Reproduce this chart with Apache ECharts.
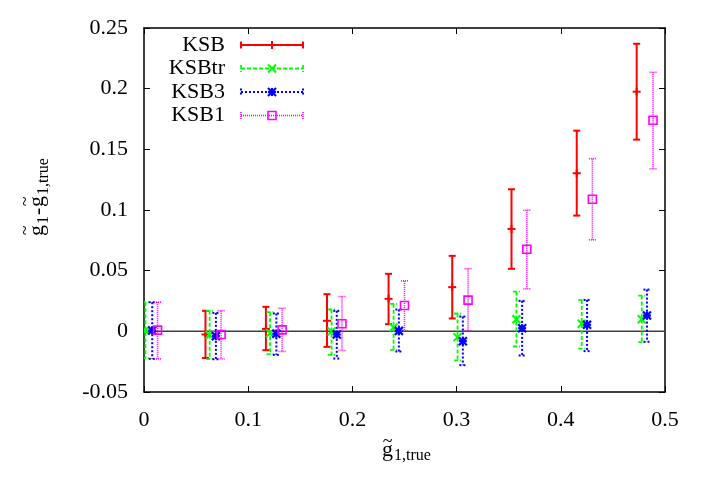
<!DOCTYPE html>
<html lang="en">
<head>
    <meta charset="UTF-8">
    <title>KSB bias</title>
    <script src="https://cdn.jsdelivr.net/npm/echarts@6/dist/echarts.min.js"></script>
    <style>
        body{ margin:0; background:#fff; }
        #chart{ width:701px; height:491px; }
    </style>
</head>
<body>
<div id="chart"></div>
<script>
    // values: centre, lower and upper end of each error bar
    var ksbX  = [0.059, 0.117, 0.1756, 0.2347, 0.2958, 0.3527, 0.4153, 0.4728];
    var ksbY  = [-0.0026, 0.002, 0.0087, 0.0268, 0.0364, 0.0844, 0.1303, 0.1975];
    var ksbLo = [-0.022, -0.0155, -0.0128, 0.0059, 0.0106, 0.0515, 0.0954, 0.158];
    var ksbHi = [0.0169, 0.0202, 0.0306, 0.0474, 0.0622, 0.1171, 0.1654, 0.237];

    var trX  = [0.0014, 0.063, 0.121, 0.18, 0.2395, 0.3009, 0.3574, 0.4201, 0.4777];
    var trY  = [0.0007, -0.003, -0.0015, 0.0, 0.0031, -0.0048, 0.01, 0.0062, 0.01];
    var trLo = [-0.022, -0.0229, -0.0188, -0.0194, -0.0152, -0.024, -0.0125, -0.0142, -0.0089];
    var trHi = [0.024, 0.0169, 0.0158, 0.018, 0.0227, 0.0147, 0.0328, 0.0259, 0.0295];

    var k3X  = [0.0079, 0.069, 0.127, 0.185, 0.2446, 0.306, 0.3629, 0.4252, 0.4827];
    var k3Y  = [0.0007, -0.004, -0.002, -0.0026, 0.0004, -0.0081, 0.0026, 0.0054, 0.013];
    var k3Lo = [-0.0227, -0.023, -0.0194, -0.0224, -0.0166, -0.0279, -0.0199, -0.0163, -0.0086];
    var k3Hi = [0.024, 0.0152, 0.0147, 0.0169, 0.018, 0.0122, 0.0251, 0.0259, 0.0344];

    var k1X  = [0.013, 0.074, 0.1325, 0.19, 0.25, 0.311, 0.3674, 0.4303, 0.4885];
    var k1Y  = [0.001, -0.0026, 0.0012, 0.0062, 0.0213, 0.0257, 0.0677, 0.1089, 0.174];
    var k1Lo = [-0.0227, -0.0227, -0.0166, -0.0158, 0.0005, 0.0005, 0.035, 0.0754, 0.1339];
    var k1Hi = [0.024, 0.017, 0.019, 0.0287, 0.0416, 0.0517, 0.0998, 0.1423, 0.2135];

    var zeroX = [0, 0.5];
    var zeroY = [0, 0];

    var names = ['KSB', 'KSBtr', 'KSB3', 'KSB1'];

    var serif = '"Liberation Serif", "Times New Roman", serif';

    function rows(x, y, lo, hi) {
        var out = [];
        for (var i = 0; i < x.length; i++) out.push([x[i], y[i], lo[i], hi[i]]);
        return out;
    }

    function seg(x1, y1, x2, y2, st) {
        return {type: 'line', shape: {x1: x1, y1: y1, x2: x2, y2: y2}, style: st};
    }

    // point markers, gnuplot style
    function plusMark(cx, cy, c) {
        var st = {stroke: c, lineWidth: 2};
        return {type: 'group', children: [seg(cx - 4, cy, cx + 4, cy, st), seg(cx, cy - 4, cx, cy + 4, st)]};
    }
    function crossMark(cx, cy, c) {
        var st = {stroke: c, lineWidth: 2};
        return {type: 'group', children: [seg(cx - 4, cy - 4, cx + 4, cy + 4, st), seg(cx - 4, cy + 4, cx + 4, cy - 4, st)]};
    }
    function starMark(cx, cy, c) {
        var st = {stroke: c, lineWidth: 2.2};
        return {type: 'group', children: [
            seg(cx - 4, cy - 4, cx + 4, cy + 4, st), seg(cx - 4, cy + 4, cx + 4, cy - 4, st),
            seg(cx - 4, cy, cx + 4, cy, st), seg(cx, cy - 4, cx, cy + 4, st)
        ]};
    }
    function squareMark(cx, cy, c) {
        return {type: 'rect', shape: {x: cx - 4, y: cy - 4, width: 8, height: 8},
            style: {stroke: c, lineWidth: 1.6, fill: null}};
    }

    var looks = [
        {color: '#ff0000', dash: null, width: 2, mark: plusMark},
        {color: '#00ff00', dash: [4, 2], width: 1.8, mark: crossMark},
        {color: '#0000ff', dash: [2, 2], width: 2, mark: starMark},
        {color: '#ff00ff', dash: [1, 1], width: 1.6, mark: squareMark}
    ];

    function errRender(look) {
        return function (params, api) {
            var x = api.value(0);
            var p = api.coord([x, api.value(1)]);
            var lo = api.coord([x, api.value(2)]);
            var hi = api.coord([x, api.value(3)]);
            var st = {stroke: look.color, lineWidth: look.width, lineDash: look.dash, fill: null};
            var w = 3.5;
            return {
                type: 'group',
                children: [
                    seg(hi[0], hi[1], lo[0], lo[1], st),
                    seg(hi[0] - w, hi[1], hi[0] + w, hi[1], st),
                    seg(lo[0] - w, lo[1], lo[0] + w, lo[1], st),
                    look.mark(p[0], p[1], look.color)
                ]
            };
        };
    }

    var datasets = [
        rows(ksbX, ksbY, ksbLo, ksbHi),
        rows(trX, trY, trLo, trHi),
        rows(k3X, k3Y, k3Lo, k3Hi),
        rows(k1X, k1Y, k1Lo, k1Hi)
    ];

    var series = [{
        type: 'line',
        data: zeroX.map(function (v, i) { return [v, zeroY[i]]; }),
        symbol: 'none',
        silent: true,
        lineStyle: {color: '#404040', width: 1.5},
        z: 1
    }];
    datasets.forEach(function (d, i) {
        series.push({
            name: names[i],
            type: 'custom',
            renderItem: errRender(looks[i]),
            data: d,
            clip: true,
            encode: {x: 0, y: [1, 2, 3]},
            z: 2 + i
        });
    });

    // legend drawn by hand: label on the left, sample error bar on the right
    var legendItems = [];
    names.forEach(function (n, i) {
        var y = 45 + i * 23.5;
        var lk = looks[i];
        var st = {stroke: lk.color, lineWidth: lk.width, lineDash: lk.dash, fill: null};
        legendItems.push({
            type: 'text', x: 225, y: y,
            style: {text: n, font: '22px ' + serif, fill: '#000', align: 'right', verticalAlign: 'middle'}
        });
        legendItems.push(seg(241, y, 303, y, st));
        legendItems.push(seg(241, y - 3.5, 241, y + 3.5, st));
        legendItems.push(seg(303, y - 3.5, 303, y + 3.5, st));
        legendItems.push(lk.mark(272, y, lk.color));
    });

    function txt(t, x, y, size, align, rot) {
        return {
            type: 'text', x: x, y: y, rotation: rot || 0,
            style: {text: t, font: size + 'px ' + serif, fill: '#000', align: align, verticalAlign: 'middle'}
        };
    }
    var R = Math.PI / 2;
    var axisNames = [
        // x axis name
        txt('g', 382, 450, 22, 'left'),
        txt('~', 387.5, 442, 18, 'center'),
        txt('1,true', 394, 456, 16, 'left'),
        // y axis name, rotated
        txt('g', 37.5, 236, 22, 'left', R),
        txt('~', 26, 230.5, 18, 'center', R),
        txt('1', 44, 224, 16, 'left', R),
        txt('-', 38, 215, 22, 'left', R),
        txt('g', 37.5, 207, 22, 'left', R),
        txt('~', 26, 201.5, 18, 'center', R),
        txt('1,true', 44, 195, 16, 'left', R)
    ];

    var labelStyle = {color: '#000', fontFamily: serif, fontSize: 22};
    var frame = {show: true, onZero: false, lineStyle: {color: '#000', width: 1.5}};
    var tick = {show: true, inside: true, length: 6, lineStyle: {color: '#000', width: 1}};

    var chart = echarts.init(document.getElementById('chart'));
    chart.setOption({
        animation: false,
        backgroundColor: '#fff',
        grid: {left: 144, right: 36, top: 28, bottom: 99, containLabel: false},
        xAxis: [
            {type: 'value', min: 0, max: 0.5, interval: 0.1, position: 'bottom',
                axisLine: frame, axisTick: tick, splitLine: {show: false},
                axisLabel: Object.assign({margin: 17}, labelStyle)},
            {type: 'value', min: 0, max: 0.5, interval: 0.1, position: 'top',
                axisLine: frame, axisTick: tick, splitLine: {show: false}, axisLabel: {show: false}}
        ],
        yAxis: [
            {type: 'value', min: -0.05, max: 0.25, interval: 0.05, position: 'left',
                axisLine: frame, axisTick: tick, splitLine: {show: false},
                axisLabel: Object.assign({margin: 16}, labelStyle)},
            {type: 'value', min: -0.05, max: 0.25, interval: 0.05, position: 'right',
                axisLine: frame, axisTick: tick, splitLine: {show: false}, axisLabel: {show: false}}
        ],
        graphic: legendItems.concat(axisNames),
        series: series
    });
</script>
</body>
</html>
